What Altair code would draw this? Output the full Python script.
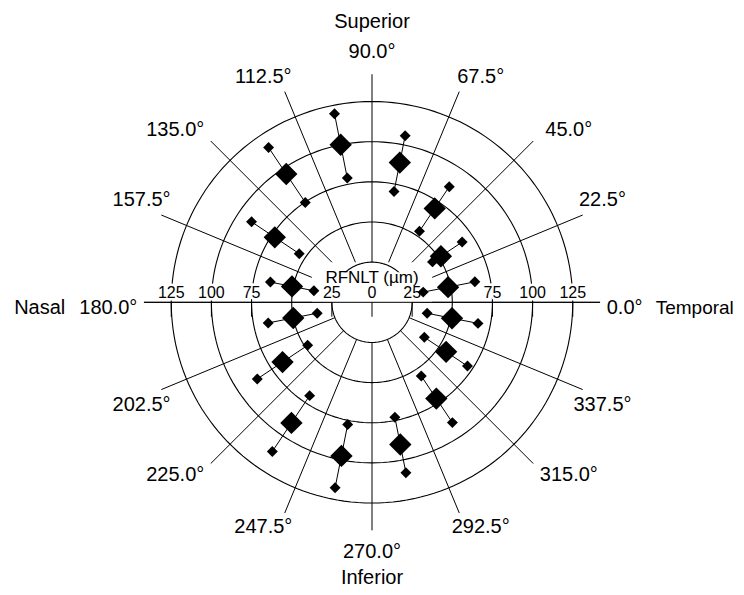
import altair as alt
import pandas as pd

# ---------------- data ----------------
sector_deg = [11.25, 33.75, 56.25, 78.75, 101.25, 123.75, 146.25, 168.75,
              191.25, 213.75, 236.25, 258.75, 281.25, 303.75, 326.25, 348.75]
rfnlt_mean = [48.3, 51.6, 70.3, 88.7, 100.0, 96.1, 72.8, 50.8,
              50.0, 67.0, 90.3, 97.5, 90.3, 72.1, 55.5, 50.8]
rfnlt_low = [32.5, 45.3, 53.2, 70.3, 78.9, 74.8, 54.5, 36.9,
             34.8, 48.2, 69.9, 77.6, 73.0, 55.2, 39.2, 35.0]
rfnlt_high = [65.3, 67.5, 86.6, 105.8, 119.7, 115.9, 90.2, 64.5,
              65.9, 85.9, 111.7, 117.8, 108.2, 90.1, 71.5, 67.3]

spoke_deg = [0.0, 22.5, 45.0, 67.5, 90.0, 112.5, 135.0, 157.5,
             180.0, 202.5, 225.0, 247.5, 270.0, 292.5, 315.0, 337.5]
spoke_labels = ["0.0°", "22.5°", "45.0°", "67.5°", "90.0°", "112.5°", "135.0°", "157.5°",
                "180.0°", "202.5°", "225.0°", "247.5°", "270.0°", "292.5°", "315.0°", "337.5°"]
ring_values = [25, 50, 75, 100, 125]
tick_pos = [-125, -100, -75, -25, 0, 25, 75, 100, 125]
tick_text = ["125", "100", "75", "25", "0", "25", "75", "100", "125"]
side_names = ["Temporal", "Superior", "Nasal", "Inferior"]
side_deg = [0.0, 90.0, 180.0, 270.0]
radial_title = "RFNLT (µm)"

# ---------------- layout ----------------
W, H = 728, 579
PX = 1.606                  # pixels per µm
CX, CY = 364.0, 294.3       # centre of the polar plot inside the view
XD = [-CX / PX, (W - CX) / PX]
YD = [-(H - CY) / PX, CY / PX]
R_IN = ring_values[0]
R_SPOKE = 142.0
R_LAB = 250.0 / PX          # centre radius of the angle labels
R_HLAB = 234.7 / PX         # inner edge of the 0° / 180° labels
FONT = "Liberation Sans"
FS_ANG = 20

xs = alt.Scale(domain=XD, nice=False, zero=False)
ys = alt.Scale(domain=YD, nice=False, zero=False)


def X(f):
    return alt.X(f, type="quantitative", scale=xs, axis=None)


def Y(f):
    return alt.Y(f, type="quantitative", scale=ys, axis=None)


RAD = "PI/180"

# spokes
spokes = alt.Chart(pd.DataFrame({"deg": spoke_deg})).transform_calculate(
    x1=f"{R_IN}*cos(datum.deg*{RAD})", y1=f"{R_IN}*sin(datum.deg*{RAD})",
    x2=f"{R_SPOKE}*cos(datum.deg*{RAD})", y2=f"{R_SPOKE}*sin(datum.deg*{RAD})",
).mark_rule(color="black", strokeWidth=1).encode(
    x=X("x1"), y=Y("y1"), x2="x2:Q", y2="y2:Q")

# white label boxes
box_big = pd.DataFrame({"x": [-1.5 * R_IN], "x2": [1.5 * R_IN], "y": [0.0], "y2": [R_IN]})
box_small = pd.DataFrame({"x": [-1.2 * R_IN], "x2": [1.2 * R_IN], "y": [0.0], "y2": [0.75 * R_IN]})
mask1 = alt.Chart(box_big).mark_rect(color="white").encode(x=X("x"), x2="x2:Q", y=Y("y"), y2="y2:Q")
mask2 = alt.Chart(box_small).mark_rect(color="white").encode(x=X("x"), x2="x2:Q", y=Y("y"), y2="y2:Q")

# rings
ring_rows = [{"ring": r, "deg": d} for r in ring_values for d in range(0, 361, 2)]
rings = alt.Chart(pd.DataFrame(ring_rows)).transform_calculate(
    x=f"datum.ring*cos(datum.deg*{RAD})", y=f"datum.ring*sin(datum.deg*{RAD})",
).mark_line(color="black", strokeWidth=1.1).encode(
    x=X("x"), y=Y("y"), detail="ring:N", order="deg:Q")

# radial axis line + ticks
axis_line = alt.Chart(pd.DataFrame({"x": [-R_SPOKE], "x2": [R_SPOKE], "y": [0.0]})).mark_rule(
    color="black", strokeWidth=1).encode(x=X("x"), x2="x2:Q", y=Y("y"))
ticks_df = pd.DataFrame({"x": tick_pos, "label": tick_text})
ticks = alt.Chart(ticks_df).transform_calculate(y0="0", y1="-9").mark_rule(
    color="black", strokeWidth=1).encode(x=X("x"), y=Y("y0"), y2="y1:Q")
tick_halo = alt.Chart(ticks_df).transform_calculate(y="0").mark_text(
    font=FONT, fontSize=16, baseline="alphabetic", dy=-4, stroke="white", strokeWidth=5,
    color="white").encode(x=X("x"), y=Y("y"), text="label:N")
tick_lbl = alt.Chart(ticks_df).transform_calculate(y="0").mark_text(
    font=FONT, fontSize=16, baseline="alphabetic", dy=-4, color="black").encode(
    x=X("x"), y=Y("y"), text="label:N")
title_df = pd.DataFrame({"x": [0.0], "y": [0.0], "t": [radial_title]})
title_lbl = alt.Chart(title_df).mark_text(
    font=FONT, fontSize=17, baseline="alphabetic", dy=-19, color="black").encode(
    x=X("x"), y=Y("y"), text="t:N")

# angle labels: centre on a circle, nudged per label class (mirrored into the first quadrant)
ang_df = pd.DataFrame({"deg": spoke_deg, "label": spoke_labels})
ang_lbl = alt.Chart(ang_df).transform_filter("datum.deg != 0 && datum.deg != 180").transform_calculate(
    c=f"cos(datum.deg*{RAD})", s=f"sin(datum.deg*{RAD})",
).transform_calculate(
    m="acos(abs(datum.c))*180/PI",
).transform_calculate(
    ox="datum.m < 30 ? -0.5 : datum.m < 50 ? 20 : datum.m < 80 ? 13 : 0",
    oy="datum.m < 30 ? 7 : datum.m < 50 ? -4 : datum.m < 80 ? -6 : 0",
).transform_calculate(
    x=f"{R_LAB}*datum.c + (abs(datum.c) > 0.01 ? (datum.c > 0 ? 1 : -1) : 0)*datum.ox/{PX}",
    y=f"{R_LAB}*datum.s + (datum.s > 0 ? 1 : -1)*datum.oy/{PX}",
).mark_text(font=FONT, fontSize=FS_ANG, color="black", baseline="middle", align="center").encode(
    x=X("x"), y=Y("y"), text="label:N")
ang_r = alt.Chart(ang_df).transform_filter("datum.deg == 0").transform_calculate(
    x=f"{R_HLAB}", y="0").mark_text(
    font=FONT, fontSize=FS_ANG, color="black", baseline="middle", align="left", dy=6).encode(
    x=X("x"), y=Y("y"), text="label:N")
ang_l = alt.Chart(ang_df).transform_filter("datum.deg == 180").transform_calculate(
    x=f"-{R_HLAB}", y="0").mark_text(
    font=FONT, fontSize=FS_ANG, color="black", baseline="middle", align="right", dy=6).encode(
    x=X("x"), y=Y("y"), text="label:N")

side_df = pd.DataFrame({"deg": side_deg, "name": side_names})
side_t = alt.Chart(side_df).transform_filter("datum.deg == 90").transform_calculate(
    x="0", y=f"{R_LAB} + 30/{PX}",
).mark_text(font=FONT, fontSize=FS_ANG, color="black", baseline="middle", align="center").encode(
    x=X("x"), y=Y("y"), text="name:N")
side_b = alt.Chart(side_df).transform_filter("datum.deg == 270").transform_calculate(
    x="0", y=f"-({R_LAB} + 26/{PX})",
).mark_text(font=FONT, fontSize=FS_ANG, color="black", baseline="middle", align="center").encode(
    x=X("x"), y=Y("y"), text="name:N")
side_r = alt.Chart(side_df).transform_filter("datum.deg == 0").transform_calculate(
    x=f"{R_HLAB} + 49/{PX}", y="0",
).mark_text(font=FONT, fontSize=19, color="black", baseline="middle", align="left", dy=6).encode(
    x=X("x"), y=Y("y"), text="name:N")
side_l = alt.Chart(side_df).transform_filter("datum.deg == 180").transform_calculate(
    x=f"-({R_HLAB} + 72/{PX})", y="0",
).mark_text(font=FONT, fontSize=FS_ANG, color="black", baseline="middle", align="right", dy=6).encode(
    x=X("x"), y=Y("y"), text="name:N")

# data
df = pd.DataFrame({"deg": sector_deg, "mean": rfnlt_mean, "low": rfnlt_low, "high": rfnlt_high})
base = alt.Chart(df).transform_calculate(
    c=f"cos(datum.deg*{RAD})", s=f"sin(datum.deg*{RAD})"
).transform_calculate(
    xm="datum.mean*datum.c", ym="datum.mean*datum.s",
    xl="datum.low*datum.c", yl="datum.low*datum.s",
    xh="datum.high*datum.c", yh="datum.high*datum.s",
)
whisk = base.mark_rule(color="black", strokeWidth=1).encode(
    x=X("xl"), y=Y("yl"), x2="xh:Q", y2="yh:Q")
small_lo = base.mark_point(shape="diamond", filled=True, color="black", size=120, opacity=1).encode(
    x=X("xl"), y=Y("yl"))
small_hi = base.mark_point(shape="diamond", filled=True, color="black", size=120, opacity=1).encode(
    x=X("xh"), y=Y("yh"))
big = base.mark_point(shape="diamond", filled=True, color="black", size=500, opacity=1).encode(
    x=X("xm"), y=Y("ym"))

chart = alt.layer(
    spokes, mask1, rings, mask2, axis_line, ticks, tick_halo, tick_lbl, title_lbl,
    ang_lbl, ang_r, ang_l, side_t, side_b, side_r, side_l, whisk, small_lo, small_hi, big
).properties(
    width=W, height=H, padding=0, autosize=alt.AutoSizeParams(type="none")
).configure_view(stroke=None)

chart.save("out.html", embed_options={"renderer": "svg", "actions": False})
